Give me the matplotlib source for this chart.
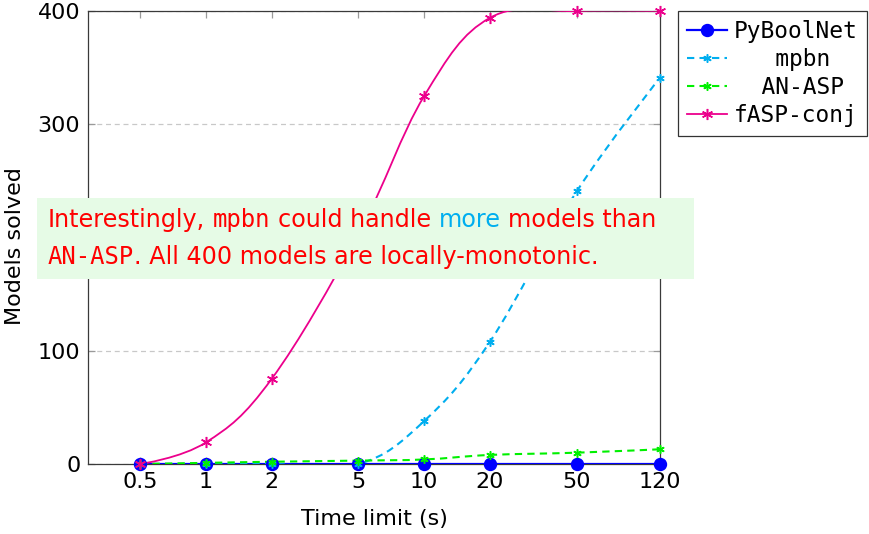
import numpy as np
import matplotlib
matplotlib.use("Agg")
import matplotlib.pyplot as plt
from matplotlib.path import Path
from matplotlib.patches import PathPatch, Rectangle
from matplotlib.lines import Line2D

# ---------------- data ----------------
time_limits = [0.5, 1, 2, 5, 10, 20, 50, 120]
x_tick_labels = ["0.5", "1", "2", "5", "10", "20", "50", "120"]
y_ticks = [0, 100, 200, 300, 400]

pyboolnet = [0, 0, 0, 0, 0, 0, 0, 0]
mpbn = [0, 0, 0, 0, 38, 108, 241, 341]
an_asp = [0, 1, 2, 3, 4, 8, 10, 13]
fasp_conj = [0, 19, 75, 203, 325, 394, 400, 400]

series_names = ["PyBoolNet", "mpbn", "AN-ASP", "fASP-conj"]
x_label = "Time limit (s)"
y_label = "Models solved"

note_line1 = [("Interestingly,", "sans", "text"), (" ", "sans", "text"),
              ("mpbn", "mono", "text"), (" ", "sans", "text"),
              ("could handle", "sans", "text"), (" ", "sans", "text"),
              ("more", "sans", "accent"), (" ", "sans", "text"),
              ("models than", "sans", "text")]
note_line2 = [("AN-ASP", "mono", "text"),
              (". All 400 models are locally-monotonic.", "sans", "text")]

# ---------------- style ----------------
W, H = 869, 534
SANS = "DejaVu Sans"
MONO = "DejaVu Sans Mono"
C_BLUE = "#0000FF"
C_CYAN = "#00AEEF"
C_GREEN = "#00F000"
C_MAGENTA = "#EC008C"
C_RED = "#FF0000"
BOX_BG = "#E6FBE6"

plt.rcParams["font.family"] = [SANS]

fig = plt.figure(figsize=(W / 100, H / 100), dpi=100)
ax = fig.add_axes([88 / W, 1 - 464 / H, (660 - 88) / W, (464 - 11) / H])
ax.set_xscale("log")


def smooth_path(xs, ys, tension=0.55):
    """pgfplots-like smooth curve through the data points (in log-x space)."""
    P = np.column_stack([np.log10(np.asarray(xs, float)), np.asarray(ys, float)])
    n = len(P)
    k = tension / 3.0
    verts = [P[0]]
    codes = [Path.MOVETO]
    for i in range(n - 1):
        c1 = P[i] + k * (P[i + 1] - P[i - 1]) if i > 0 else P[i]
        c2 = P[i + 1] - k * (P[i + 2] - P[i]) if i + 1 < n - 1 else P[i + 1]
        verts += [c1, c2, P[i + 1]]
        codes += [Path.CURVE4] * 3
    verts = np.array(verts)
    verts[:, 0] = 10 ** verts[:, 0]
    return Path(verts, codes)


dash = (0, (3.5, 2.5))
asterisk = (6, 2, 0)
specs = [
    (pyboolnet, C_BLUE, "-", "o", 8.5, 1.6, False),
    (mpbn, C_CYAN, dash, asterisk, 6, 1.5, True),
    (an_asp, C_GREEN, dash, asterisk, 6, 1.5, True),
    (fasp_conj, C_MAGENTA, "-", asterisk, 8, 1.3, True),
]

handles = []
for vals, col, ls, mk, ms, lw, smooth in specs:
    if smooth:
        patch = PathPatch(smooth_path(time_limits, vals), facecolor="none",
                          edgecolor=col, linestyle=ls, linewidth=lw, zorder=3)
        ax.add_patch(patch)
    else:
        ax.plot(time_limits, vals, color=col, linestyle=ls, linewidth=lw, zorder=3)
    ax.plot(time_limits, vals, linestyle="none", marker=mk, markersize=ms,
            color=col, markeredgecolor=col, markeredgewidth=1.1, zorder=4,
            clip_on=False)
    handles.append(Line2D([0], [0], color=col, linestyle=ls, linewidth=lw,
                          marker=mk, markersize=ms, markeredgecolor=col,
                          markeredgewidth=1.1))

ax.set_xlim(0.289, 120)
ax.set_ylim(0, 400)
ax.set_xticks(time_limits)
ax.set_xticklabels(x_tick_labels)
ax.xaxis.set_minor_locator(matplotlib.ticker.NullLocator())
ax.set_yticks(y_ticks)
ax.tick_params(axis="both", which="major", direction="in", length=5, width=0.9,
               color="#9a9a9a", labelsize=16, pad=5.5, top=True, right=True,
               labelcolor="black")
ax.yaxis.grid(True, linestyle=(0, (4, 3)), color="#c8c8c8", linewidth=0.9)
ax.set_axisbelow(True)
for sp in ax.spines.values():
    sp.set_color("#3a3a3a")
    sp.set_linewidth(0.9)

# the "200" label sits under the note box in the reference (not visible)
fig.canvas.draw()
for lbl, val in zip(ax.get_yticklabels(), y_ticks):
    if val == 200:
        lbl.set_visible(False)

ax.set_xlabel(x_label, fontsize=16)
ax.set_ylabel(y_label, fontsize=16)
ax.xaxis.set_label_coords(0.5, (464 - 509) / 453)
ax.yaxis.set_label_coords((25 - 88) / 572, 0.48)

# legend with centred monospace labels
maxlen = max(len(s) for s in series_names)
labels = [" " * ((maxlen - len(s) + 1) // 2) + s for s in series_names]
leg = ax.legend(handles, labels, loc="upper left",
                bbox_to_anchor=(678 / W, 1 - 11 / H), bbox_transform=fig.transFigure,
                borderaxespad=0, frameon=True, fancybox=False, framealpha=1,
                edgecolor="#333333", prop={"family": MONO, "size": 16.5},
                handlelength=1.75, handletextpad=0.3, labelspacing=0.22,
                borderpad=0.4)
leg.get_frame().set_linewidth(0.9)

# note box
fig.add_artist(Rectangle((37 / W, 1 - 279 / H), (694 - 37) / W, (279 - 198) / H,
                         transform=fig.transFigure, facecolor=BOX_BG,
                         edgecolor="none", zorder=10))

renderer = fig.canvas.get_renderer()
color_map = {"text": C_RED, "accent": C_CYAN}
fam_map = {"sans": SANS, "mono": MONO}


def measure(s, fam, fs):
    t = fig.text(0, 0, s, fontfamily=fam, fontsize=fs)
    w = t.get_window_extent(renderer).width
    t.remove()
    return w


def draw_line(segments, x0, ybase, fs, draw=True):
    x = x0
    sp_w = measure("a a", SANS, fs) - measure("aa", SANS, fs)
    for s, fam, col in segments:
        if s == " ":
            x += sp_w
            continue
        t = fig.text(x / W, 1 - ybase / H, s, fontfamily=fam_map[fam],
                     color=color_map[col], fontsize=fs, ha="left",
                     va="baseline", zorder=11)
        w = t.get_window_extent(renderer).width
        if not draw:
            t.remove()
        x += w
    return x - x0


fs0 = 17
w0 = draw_line(note_line1, 48, 227, fs0, draw=False)
fs = fs0 * (658 - 48) / w0
draw_line(note_line1, 48, 227, fs)
draw_line(note_line2, 48, 264, fs)

fig.savefig("out.png", dpi=100)
